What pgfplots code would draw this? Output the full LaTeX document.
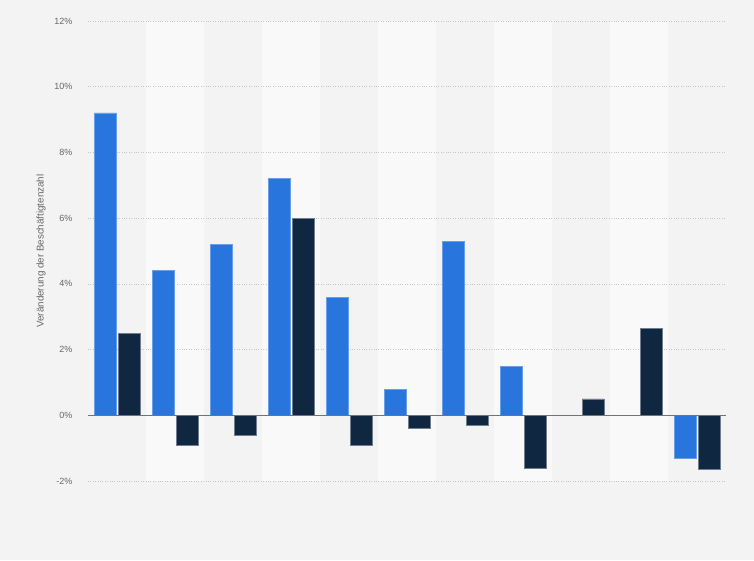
\documentclass[border=0pt]{standalone}
\usepackage{pgfplots}
\pgfplotsset{compat=1.18}
\usepackage{fontspec}
\setmainfont{Liberation Sans}
\definecolor{bg}{HTML}{F3F3F3}
\definecolor{stripe}{HTML}{F9F9F9}
\definecolor{sblue}{HTML}{2876DD}
\definecolor{snavy}{HTML}{0F2741}
\definecolor{txt}{HTML}{666666}
\pagecolor{bg}

% Veränderung der Beschäftigtenzahl, zwei Reihen je Gruppe
\pgfplotstableread{
x a b
0 9.2 2.5
1 4.4 -0.9
2 5.2 -0.6
3 7.2 6.0
4 3.6 -0.9
5 0.8 -0.4
6 5.3 -0.3
7 1.5 -1.6
8 0 0.5
9 0 2.65
10 -1.3 -1.65
}\data

\begin{document}
\begin{tikzpicture}
\path (-88pt,-79pt) rectangle (666pt,481pt);
\begin{axis}[set layers,scale only axis,width=638pt,height=460pt,
 xmin=-0.5,xmax=10.5,ymin=-2,ymax=12,ytick={-2,0,...,12},xtick=\empty,
 ybar=2pt,bar width=22pt,
 axis line style={draw=none},tick style={draw=none},
 ymajorgrids,major grid style={dotted,black!22,line width=0.6pt},
 /pgf/number format/assume math mode=true,
 yticklabel={\pgfmathprintnumber{\tick}\%},
 yticklabel style={font=\fontsize{9}{11}\selectfont,text=txt,xshift=-12pt},
 ylabel={Veränderung der Beschäftigtenzahl},
 every axis y label/.style={at={(axis description cs:0,0.5)},rotate=90,anchor=center,
   yshift=47pt,font=\fontsize{9.8}{12}\selectfont,text=txt}]
\begin{pgfonlayer}{axis background}
\fill[stripe] (axis cs:0.5,-2) rectangle (axis cs:1.5,12);
\fill[stripe] (axis cs:2.5,-2) rectangle (axis cs:3.5,12);
\fill[stripe] (axis cs:4.5,-2) rectangle (axis cs:5.5,12);
\fill[stripe] (axis cs:6.5,-2) rectangle (axis cs:7.5,12);
\fill[stripe] (axis cs:8.5,-2) rectangle (axis cs:9.5,12);
\end{pgfonlayer}
\addplot[fill=sblue,draw=sblue!70!white,line width=0.5pt] table[x=x,y=a]{\data};
\addplot[fill=snavy,draw=snavy!60!white,line width=0.5pt] table[x=x,y=b]{\data};
\draw[black!55,line width=0.9pt] (axis cs:-0.5,0) -- (axis cs:10.5,0);
\end{axis}
\end{tikzpicture}
\end{document}
